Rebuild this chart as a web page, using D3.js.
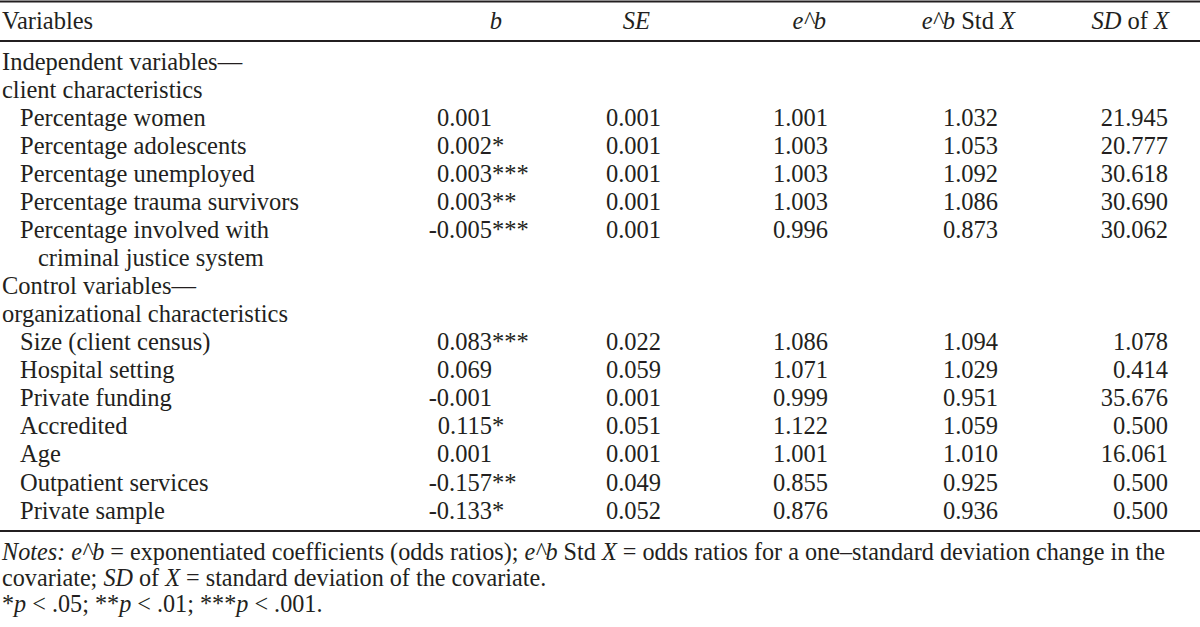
<!DOCTYPE html>
<html>
<head>
<meta charset="utf-8">
<script src="https://cdn.jsdelivr.net/npm/d3@7"></script>
<style>
  body { margin: 0; background: #fff; }
  text { font-family: "Liberation Serif", "Times New Roman", serif; font-size: 24.5px; fill: #231f20; }
  text.note { font-size: 24.2px; }
</style>
</head>
<body>
<script>
var width = 1200;
var height = 627;

// row labels (indent: 0 = group heading, 1 = variable, 2 = continuation line)
var rowLabels = ["Independent variables\u2014", "client characteristics",
  "Percentage women", "Percentage adolescents", "Percentage unemployed",
  "Percentage trauma survivors", "Percentage involved with", "criminal justice system",
  "Control variables\u2014", "organizational characteristics",
  "Size (client census)", "Hospital setting", "Private funding", "Accredited",
  "Age", "Outpatient services", "Private sample"];
var rowIndent = [0, 0, 1, 1, 1, 1, 1, 2, 0, 0, 1, 1, 1, 1, 1, 1, 1];

// rows that carry values, in order
var valueRows = [2, 3, 4, 5, 6, 10, 11, 12, 13, 14, 15, 16];
var bValues   = [0.001, 0.002, 0.003, 0.003, -0.005, 0.083, 0.069, -0.001, 0.115, 0.001, -0.157, -0.133];
var bStars    = [0, 1, 3, 2, 3, 3, 0, 0, 1, 0, 2, 1];
var seValues  = [0.001, 0.001, 0.001, 0.001, 0.001, 0.022, 0.059, 0.001, 0.051, 0.001, 0.049, 0.052];
var ebValues  = [1.001, 1.003, 1.003, 1.003, 0.996, 1.086, 1.071, 0.999, 1.122, 1.001, 0.855, 0.876];
var ebStdX    = [1.032, 1.053, 1.092, 1.086, 0.873, 1.094, 1.029, 0.951, 1.059, 1.010, 0.925, 0.936];
var sdX       = [21.945, 20.777, 30.618, 30.690, 30.062, 1.078, 0.414, 35.676, 0.500, 16.061, 0.500, 0.500];

var columns = ["b", "se", "eb", "ebStd", "sd"];

var svg = d3.select("body")
            .append("svg")
            .attr("width", width)
            .attr("height", height);

var y = d3.scaleLinear().domain([0, rowLabels.length - 1]).range([61, 510]);
// right edge of the numbers in each column
var colRight = d3.scaleOrdinal().domain(columns).range([492, 661, 828, 998, 1168]);
var indentX = d3.scaleOrdinal().domain([0, 1, 2]).range([2, 20, 38]);

var fmt = function(v) { return v.toFixed(3); };

// rules
var rules = [{y: 1.5, w: 2}, {y: 41, w: 2}, {y: 531, w: 2}];
svg.selectAll("line.rule")
  .data(rules)
  .enter().append("line")
  .attr("class", "rule")
  .attr("x1", 0).attr("x2", width)
  .attr("y1", function(d) { return d.y; })
  .attr("y2", function(d) { return d.y; })
  .attr("stroke", "#231f20")
  .attr("stroke-width", function(d) { return d.w; });

// header
var header = [
  {x: 2, anchor: "start", parts: [["Variables", false]]},
  {x: 502, anchor: "end", parts: [["b", true]]},
  {x: 650, anchor: "end", parts: [["SE", true]]},
  {x: 826, anchor: "end", parts: [["e^b", true]]},
  {x: 1015, anchor: "end", parts: [["e^b", true], [" Std ", false], ["X", true]]},
  {x: 1169, anchor: "end", parts: [["SD", true], [" of ", false], ["X", true]]}
];
header.forEach(function(h) {
  var t = svg.append("text")
    .attr("x", h.x).attr("y", 20).attr("dy", "0.35em")
    .attr("text-anchor", h.anchor)
    .attr("xml:space", "preserve");
  h.parts.forEach(function(p) {
    t.append("tspan").text(p[0]).style("font-style", p[1] ? "italic" : "normal");
  });
});

// row labels
svg.selectAll("text.label")
  .data(rowLabels)
  .enter().append("text")
  .attr("class", "label")
  .attr("x", function(d, i) { return indentX(rowIndent[i]); })
  .attr("y", function(d, i) { return y(i); })
  .attr("dy", "0.35em")
  .text(function(d) { return d; });

// value cells
var cols = {b: bValues, se: seValues, eb: ebValues, ebStd: ebStdX, sd: sdX};
columns.forEach(function(c) {
  svg.selectAll("text.col-" + c)
    .data(cols[c])
    .enter().append("text")
    .attr("class", "col-" + c)
    .attr("x", colRight(c))
    .attr("y", function(d, i) { return y(valueRows[i]); })
    .attr("dy", "0.35em")
    .attr("text-anchor", "end")
    .text(fmt);
});

// significance stars after b
svg.selectAll("text.stars")
  .data(bStars)
  .enter().append("text")
  .attr("class", "stars")
  .attr("x", colRight("b"))
  .attr("y", function(d, i) { return y(valueRows[i]); })
  .attr("dy", "0.35em")
  .text(function(d) { return "*".repeat(d); });

// notes
var notes = [
  [["Notes:", true], [" ", false], ["e^b", true], [" = exponentiated coefficients (odds ratios); ", false], ["e^b", true], [" Std ", false], ["X", true], [" = odds ratios for a one\u2013standard deviation change in the", false]],
  [["covariate; ", false], ["SD", true], [" of ", false], ["X", true], [" = standard deviation of the covariate.", false]],
  [["*", false], ["p", true], [" < .05; **", false], ["p", true], [" < .01; ***", false], ["p", true], [" < .001.", false]]
];
var noteY = d3.scaleLinear().domain([0, 2]).range([552, 604]);
notes.forEach(function(line, i) {
  var t = svg.append("text")
    .attr("class", "note")
    .attr("x", 2).attr("y", noteY(i)).attr("dy", "0.35em")
    .attr("xml:space", "preserve");
  line.forEach(function(p) {
    t.append("tspan").text(p[0]).style("font-style", p[1] ? "italic" : "normal");
  });
});
</script>
</body>
</html>
